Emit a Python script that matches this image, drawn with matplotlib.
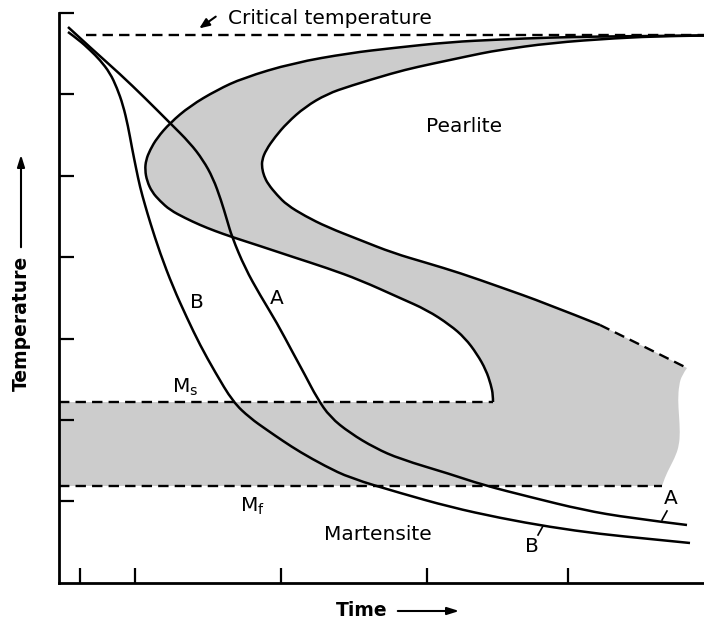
import numpy as np
import matplotlib
matplotlib.use("Agg")
import matplotlib.pyplot as plt
from matplotlib.path import Path
from matplotlib.patches import PathPatch

# ---------------- data (time, temperature in arbitrary schematic units) ----------------
critical_temp = 548
ms_temp = 181
mf_temp = 97
critical_start = 27
ms_end = 434
mf_end = 603

# start-of-transformation C curve (top right -> nose -> down to Ms)
start_t = [645, 591, 541, 491, 441, 391, 334, 291, 234, 184, 158, 131, 111, 98, 91, 87, 86,
           88, 93, 101, 111, 126, 141, 156, 173, 201, 234, 268, 301, 341, 368, 391, 406,
           418, 427, 432, 434, 434]
start_T = [547.5, 547, 546.5, 545.5, 543.5, 541, 535, 530, 520, 505, 493, 477, 460, 445, 433,
           423, 413, 402, 391, 382, 373, 365, 358, 352, 346, 337, 326, 315, 303, 285, 273,
           258, 245, 229, 213, 198, 188, 181]

# end-of-transformation C curve (top right -> nose -> lower right, solid part)
end_t = [645, 608, 558, 491, 441, 424, 391, 358, 334, 291, 268, 246, 228, 216, 207, 203, 203,
         205, 209, 218, 228, 246, 268, 301, 334, 368, 401, 441, 486, 541]
end_T = [547.5, 547, 545, 540, 533, 530, 523, 516, 510, 497, 489, 476, 460, 446, 433, 423,
         415, 407, 399, 388, 378, 367, 356, 343, 330, 320, 310, 296, 280, 258]

# dashed (extrapolated) continuation of the end curve
end_dash_t = [541, 586, 628]
end_dash_T = [258, 236, 215]

# broken right edge of the shaded region
edge_t = [628, 623, 620, 619, 620, 621, 620, 617, 611, 606, 603]
edge_T = [215, 208, 198, 183, 168, 150, 138, 128, 116, 106, 97]

# cooling curve A
a_t = [9, 34, 61, 86, 111, 131, 144, 154, 162, 168, 173, 186, 201, 218, 234, 246, 258, 271,
       291, 316, 341, 391, 424, 471, 524, 571, 628]
a_T = [556, 533, 509, 485, 460, 440, 423, 405, 383, 363, 346, 315, 288, 260, 230, 208, 185, 166,
       150, 135, 124, 109, 98, 86, 73, 65, 58]

# cooling curve B
b_t = [9, 20, 31, 41, 51, 58, 64, 69, 73, 77, 81, 86, 91, 101, 114, 128, 141, 156, 174, 191,
       208, 224, 241, 266, 291, 341, 391, 441, 491, 541, 591, 631]
b_T = [551, 543, 533, 523, 510, 495, 478, 457, 435, 415, 396, 378, 361, 330, 296, 265, 238, 211,
       181, 165, 153, 142, 131, 117, 105, 90, 76, 65, 56, 49, 44, 40]

x_ticks = [21, 76, 222, 368, 509]
y_ticks = [82, 163, 244, 326, 407, 489, 570]


def smooth_segment(t, T, first=True):
    """Quadratic B-spline style path through the read points (drawn by matplotlib)."""
    p = np.column_stack([t, T]).astype(float)
    verts, codes = [], []
    verts.append(p[0]); codes.append(Path.MOVETO if first else Path.LINETO)
    n = len(p)
    if n == 2:
        verts.append(p[1]); codes.append(Path.LINETO)
        return verts, codes
    for i in range(1, n - 2):
        verts += [p[i], (p[i] + p[i + 1]) / 2]
        codes += [Path.CURVE3, Path.CURVE3]
    verts += [p[n - 2], p[n - 1]]
    codes += [Path.CURVE3, Path.CURVE3]
    return verts, codes


def smooth_path(t, T):
    v, c = smooth_segment(t, T)
    return Path(np.array(v), c)


# ---------------- figure ----------------
fig = plt.figure(figsize=(7.04, 6.26), dpi=100)
ax = fig.add_axes([59 / 704, 43 / 626, 645 / 704, 570 / 626])
ax.set_xlim(0, 645)
ax.set_ylim(0, 570)
for s in ("top", "right"):
    ax.spines[s].set_visible(False)
for s in ("left", "bottom"):
    ax.spines[s].set_linewidth(2.0)
ax.set_xticks(x_ticks)
ax.set_yticks(y_ticks)
ax.tick_params(direction="in", length=11, width=1.6, labelbottom=False, labelleft=False)

gray = "#cccccc"
lw = 1.8
dlw = 1.7
dash = (0, (4.4, 2.6))

# shaded region: Ms line -> start curve (reversed) -> end curve -> dashed part -> edge -> Mf line
verts, codes = smooth_segment([0, ms_end], [ms_temp, ms_temp])
for seg_t, seg_T in ((start_t[::-1], start_T[::-1]), (end_t, end_T),
                     (end_dash_t, end_dash_T), (edge_t, edge_T), ([mf_end, 0], [mf_temp, mf_temp])):
    v, c = smooth_segment(seg_t, seg_T, first=False)
    verts += v; codes += c
verts.append(np.array([0, ms_temp], float)); codes.append(Path.CLOSEPOLY)
ax.add_patch(PathPatch(Path(np.array(verts), codes), facecolor=gray, edgecolor="none", zorder=1))

# dashed horizontals
ax.plot([critical_start, 645], [critical_temp, critical_temp], color="black", lw=dlw, ls=dash, zorder=3, clip_on=False)
ax.plot([0, ms_end], [ms_temp, ms_temp], color="black", lw=dlw, ls=dash, zorder=3)
ax.plot([0, mf_end], [mf_temp, mf_temp], color="black", lw=dlw, ls=dash, zorder=3)

# C curves
for tt, TT in ((start_t, start_T), (end_t, end_T)):
    ax.add_patch(PathPatch(smooth_path(tt, TT), facecolor="none", edgecolor="black", lw=lw,
                           zorder=4, clip_on=False, capstyle="butt"))
ax.add_patch(PathPatch(smooth_path(end_dash_t, end_dash_T), facecolor="none", edgecolor="black",
                       lw=dlw, ls=dash, zorder=4))

# cooling curves
for tt, TT in ((a_t, a_T), (b_t, b_T)):
    ax.add_patch(PathPatch(smooth_path(tt, TT), facecolor="none", edgecolor="black", lw=lw,
                           zorder=5, capstyle="butt"))

fs = 14.5
ax.text(169, 565, "Critical temperature", fontsize=fs, ha="left", va="center")
ax.annotate("", xy=(138, 553), xytext=(159, 568),
            arrowprops=dict(arrowstyle="-|>,head_length=0.6,head_width=0.25", color="black", lw=1.5),
            annotation_clip=False)
ax.text(405, 457, "Pearlite", fontsize=fs, ha="center", va="center")
ax.text(319, 48, "Martensite", fontsize=fs, ha="center", va="center")
ax.text(138, 281, "B", fontsize=fs, ha="center", va="center")
ax.text(218, 285, "A", fontsize=fs, ha="center", va="center")
ax.text(612, 84, "A", fontsize=fs, ha="center", va="center")
ax.text(473, 36, "B", fontsize=fs, ha="center", va="center")
ax.plot([603, 608], [63, 72], color="black", lw=1.2)
ax.plot([479, 484], [48, 57], color="black", lw=1.2)
ax.text(113, 190, r"M$_\mathregular{s}$", fontsize=fs, ha="left", va="baseline")
ax.text(181, 71, r"M$_\mathregular{f}$", fontsize=fs, ha="left", va="baseline")

# axis titles with arrows
fig.text(21 / 704, 303 / 626, "Temperature", rotation=90, fontsize=13.5, fontweight="bold",
         ha="center", va="center")
fig.text(362 / 704, 15 / 626, "Time", fontsize=13.5, fontweight="bold", ha="center", va="center")
ax.annotate("", xy=(21, 474), xytext=(21, 376), xycoords="figure pixels", textcoords="figure pixels",
            arrowprops=dict(arrowstyle="-|>,head_length=0.7,head_width=0.22", color="black", lw=1.5))
ax.annotate("", xy=(462, 15), xytext=(395, 15), xycoords="figure pixels", textcoords="figure pixels",
            arrowprops=dict(arrowstyle="-|>,head_length=0.7,head_width=0.22", color="black", lw=1.5))

fig.savefig("out.png", dpi=100)
